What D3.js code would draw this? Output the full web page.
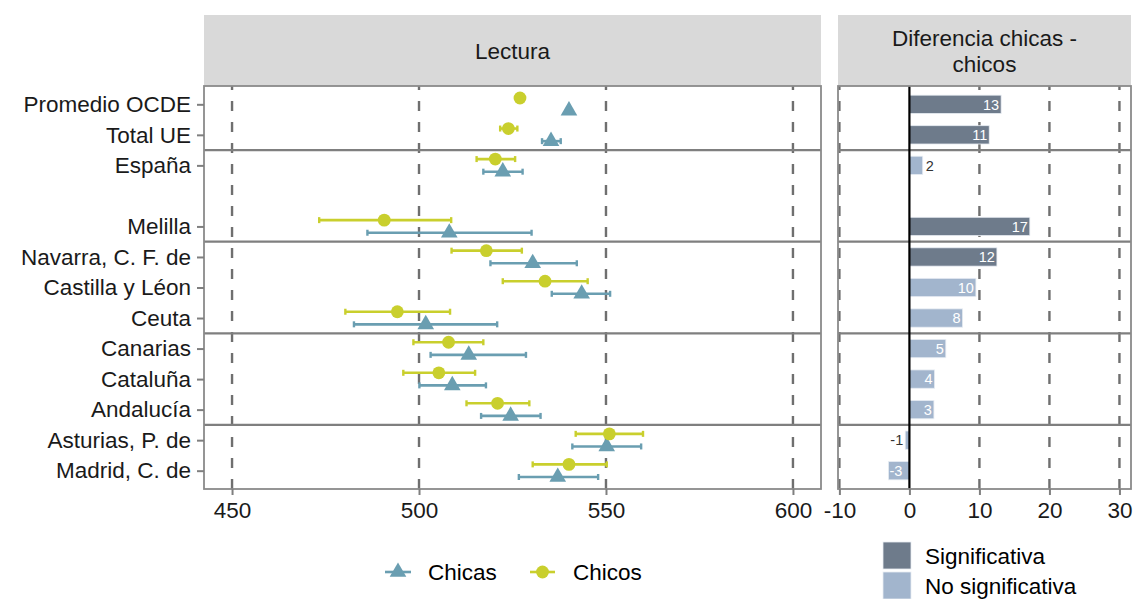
<!DOCTYPE html>
<html>
<head>
<meta charset="utf-8">
<script src="https://cdnjs.cloudflare.com/ajax/libs/d3/7.8.5/d3.min.js"></script>
<style>
  html, body { margin: 0; padding: 0; background: #fff; }
  svg { display: block; font-family: "Liberation Sans", Arial, sans-serif; }
</style>
</head>
<body>
<svg id="chart" width="1134" height="599"></svg>
<script>
// ---------------- DATA ----------------
const categories = ["Promedio OCDE", "Total UE", "España", "", "Melilla", "Navarra, C. F. de",
  "Castilla y Léon", "Ceuta", "Canarias", "Cataluña", "Andalucía", "Asturias, P. de", "Madrid, C. de"];
const regions = ["Promedio OCDE", "Total UE", "España", "Melilla", "Navarra, C. F. de",
  "Castilla y Léon", "Ceuta", "Canarias", "Cataluña", "Andalucía", "Asturias, P. de", "Madrid, C. de"];
const groupEnds = ["Total UE", "Melilla", "Ceuta", "Andalucía"];

const chicasMean = [540.1, 535.3, 522.4, 508.1, 530.4, 543.5, 501.8, 513.3, 508.9, 524.5, 550.2, 537.1];
const chicasLow  = [null, 532.9, 517.2, 486.2, 519.1, 535.5, 482.6, 503.1, 500.1, 516.6, 541.0, 526.7];
const chicasHigh = [null, 537.9, 527.7, 530.1, 542.2, 551.1, 520.9, 528.6, 517.9, 532.5, 559.4, 547.9];

const chicosMean = [527.0, 523.9, 520.4, 490.7, 518.0, 533.7, 494.2, 507.9, 505.3, 521.0, 550.9, 540.1];
const chicosLow  = [null, 521.7, 515.4, 473.3, 508.7, 522.4, 480.3, 498.5, 495.8, 512.7, 541.9, 530.4];
const chicosHigh = [null, 526.3, 525.7, 508.6, 527.5, 545.1, 508.3, 517.2, 515.0, 529.5, 559.9, 550.2];

const diffValues = [13.1, 11.4, 1.9, 17.2, 12.5, 9.5, 7.6, 5.2, 3.6, 3.5, -0.6, -3.0];
const diffLabels = ["13", "11", "2", "17", "12", "10", "8", "5", "4", "3", "-1", "-3"];
const significant = [true, true, false, true, true, false, false, false, false, false, false, false];

const leftTicks = [450, 500, 550, 600];
const rightTicks = [-10, 0, 10, 20, 30];
const leftTitle = "Lectura";
const rightTitle = ["Diferencia chicas -", "chicos"];
const seriesNames = ["Chicas", "Chicos"];
const sigNames = ["Significativa", "No significativa"];

// ---------------- STYLE ----------------
const colChicas = "#6A9EB1";
const colChicos = "#C9CF2D";
const colSig = "#6E7B8B";
const colNoSig = "#A2B5CD";
const gridCol = "#6f6f6f";
const borderCol = "#8a8a8a";
const fontSize = 22.5;

// ---------------- LAYOUT ----------------
const pTop = 86, pBottom = 489;
const L = { x0: 204, x1: 821 };
const R = { x0: 838, x1: 1131 };
const stripTop = 15;

const svg = d3.select("#chart");

const y = d3.scalePoint().domain(categories).range([pTop, pBottom]).padding(0.6);
const step = y.step();
const xL = d3.scaleLinear().domain([442.5, 607.5]).range([L.x0, L.x1]);
const xR = d3.scaleLinear().domain([-10.2, 31.65]).range([R.x0, R.x1]);

// strips
[[L, [leftTitle]], [R, rightTitle]].forEach(([p, lines]) => {
  svg.append("rect").attr("x", p.x0).attr("y", stripTop).attr("width", p.x1 - p.x0)
    .attr("height", pTop - stripTop).attr("fill", "#d9d9d9");
  const cx = (p.x0 + p.x1) / 2;
  const lh = 26;
  const cy = (stripTop + pTop) / 2;
  lines.forEach((t, i) => {
    svg.append("text").attr("x", cx).attr("y", cy + (i - (lines.length - 1) / 2) * lh)
      .attr("dy", "0.36em").attr("text-anchor", "middle").attr("font-size", fontSize)
      .attr("fill", "#1a1a1a").text(t);
  });
});

// panel backgrounds
[L, R].forEach(p => {
  svg.append("rect").attr("x", p.x0).attr("y", pTop).attr("width", p.x1 - p.x0)
    .attr("height", pBottom - pTop).attr("fill", "#fff");
});

// gridlines
const gL = svg.append("g");
leftTicks.forEach(t => {
  gL.append("line").attr("x1", xL(t)).attr("x2", xL(t)).attr("y1", pBottom).attr("y2", pTop)
    .attr("stroke", gridCol).attr("stroke-width", 2.4).attr("stroke-dasharray", "10,11");
});
rightTicks.filter(t => t !== 0).forEach(t => {
  gL.append("line").attr("x1", xR(t)).attr("x2", xR(t)).attr("y1", pBottom).attr("y2", pTop)
    .attr("stroke", gridCol).attr("stroke-width", 2.4).attr("stroke-dasharray", "10,11");
});

// group separators
groupEnds.forEach(g => {
  const yy = y(g) + step / 2;
  [L, R].forEach(p => {
    svg.append("line").attr("x1", p.x0).attr("x2", p.x1).attr("y1", yy).attr("y2", yy)
      .attr("stroke", "#7f7f7f").attr("stroke-width", 2.2);
  });
});

// ---------------- LEFT PANEL MARKS ----------------
const dodge = 6.3;
const triR = 9.6;
function triPath(cx, cy, r) {
  const xc = r * 0.866, yc = r * 0.5;
  return `M${cx},${cy - r}L${cx + xc},${cy + yc}L${cx - xc},${cy + yc}Z`;
}
const series = [
  { name: "Chicas", mean: chicasMean, lo: chicasLow, hi: chicasHigh, col: colChicas, off: dodge, shape: "tri" },
  { name: "Chicos", mean: chicosMean, lo: chicosLow, hi: chicosHigh, col: colChicos, off: -dodge, shape: "circle" }
];
const marks = svg.append("g");
series.forEach(s => {
  regions.forEach((r, i) => {
    const cy = y(r) + s.off;
    if (s.lo[i] != null) {
      const a = xL(s.lo[i]), b = xL(s.hi[i]);
      marks.append("line").attr("x1", a).attr("x2", b).attr("y1", cy).attr("y2", cy)
        .attr("stroke", s.col).attr("stroke-width", 2.6);
      [a, b].forEach(xx => marks.append("line").attr("x1", xx).attr("x2", xx)
        .attr("y1", cy - 3).attr("y2", cy + 3).attr("stroke", s.col).attr("stroke-width", 2.4));
    }
  });
});
series.forEach(s => {
  regions.forEach((r, i) => {
    const cy = y(r) + s.off;
    const cx = xL(s.mean[i]);
    if (s.shape === "tri") {
      marks.append("path").attr("d", triPath(cx, cy, triR)).attr("fill", s.col);
    } else {
      marks.append("circle").attr("cx", cx).attr("cy", cy).attr("r", 6.4).attr("fill", s.col);
    }
  });
});

// ---------------- RIGHT PANEL BARS ----------------
const barH = step * 0.6;
const bars = svg.append("g");
regions.forEach((r, i) => {
  const v = diffValues[i];
  const x0 = xR(Math.min(0, v)), x1 = xR(Math.max(0, v));
  bars.append("rect").attr("x", x0).attr("y", y(r) - barH / 2).attr("width", x1 - x0)
    .attr("height", barH).attr("fill", significant[i] ? colSig : colNoSig)
    .attr("stroke", "#e8edf3").attr("stroke-width", 0.8);
});
regions.forEach((r, i) => {
  const v = diffValues[i];
  const small = Math.abs(v) < 2.5;
  const end = xR(v);
  let xx, anchor, fill;
  if (v >= 0) {
    if (small) { xx = end + 3; anchor = "start"; fill = "#333"; }
    else { xx = end - 2; anchor = "end"; fill = "#fff"; }
  } else {
    if (small) { xx = end - 2; anchor = "end"; fill = "#333"; }
    else { xx = end + 1; anchor = "start"; fill = "#fff"; }
  }
  bars.append("text").attr("x", xx).attr("y", y(r)).attr("dy", "0.36em")
    .attr("text-anchor", anchor).attr("font-size", 14.5).attr("fill", fill).text(diffLabels[i]);
});
// zero line
svg.append("line").attr("x1", xR(0)).attr("x2", xR(0)).attr("y1", pTop).attr("y2", pBottom)
  .attr("stroke", "#000").attr("stroke-width", 2.2);

// panel borders
[L, R].forEach(p => {
  svg.append("rect").attr("x", p.x0).attr("y", pTop).attr("width", p.x1 - p.x0)
    .attr("height", pBottom - pTop).attr("fill", "none").attr("stroke", borderCol).attr("stroke-width", 1.8);
});

// ---------------- AXES ----------------
const tickCol = "#7f7f7f";
const fmt = d => String(d);
const yAxis = svg.append("g").attr("transform", `translate(${L.x0},0)`)
  .call(d3.axisLeft(y).tickValues(regions).tickSize(7).tickPadding(6));
const xAxisL = svg.append("g").attr("transform", `translate(0,${pBottom})`)
  .call(d3.axisBottom(xL).tickValues(leftTicks).tickFormat(fmt).tickSize(6).tickPadding(7));
const xAxisR = svg.append("g").attr("transform", `translate(0,${pBottom})`)
  .call(d3.axisBottom(xR).tickValues(rightTicks).tickFormat(fmt).tickSize(6).tickPadding(7));
[yAxis, xAxisL, xAxisR].forEach(a => {
  a.select(".domain").remove();
  a.selectAll(".tick line").attr("stroke", tickCol).attr("stroke-width", 2);
  a.selectAll(".tick text").attr("font-size", fontSize).attr("fill", "#1a1a1a")
    .attr("font-family", "Liberation Sans, Arial, sans-serif");
});

// ---------------- LEGENDS ----------------
const lg = svg.append("g");
const ly = 572;
lg.append("line").attr("x1", 385).attr("x2", 411).attr("y1", ly).attr("y2", ly)
  .attr("stroke", colChicas).attr("stroke-width", 2.6);
lg.append("path").attr("d", triPath(398, ly, triR)).attr("fill", colChicas);
lg.append("text").attr("x", 428).attr("y", ly).attr("dy", "0.36em").attr("font-size", fontSize)
  .attr("fill", "#000").text(seriesNames[0]);
lg.append("line").attr("x1", 530).attr("x2", 555).attr("y1", ly).attr("y2", ly)
  .attr("stroke", colChicos).attr("stroke-width", 2.6);
lg.append("circle").attr("cx", 542.5).attr("cy", ly).attr("r", 6.4).attr("fill", colChicos);
lg.append("text").attr("x", 573).attr("y", ly).attr("dy", "0.36em").attr("font-size", fontSize)
  .attr("fill", "#000").text(seriesNames[1]);

[colSig, colNoSig].forEach((c, i) => {
  const yy = 542 + i * 30;
  lg.append("rect").attr("x", 883).attr("y", yy).attr("width", 28).attr("height", 27)
    .attr("fill", c).attr("stroke", "#e8edf3").attr("stroke-width", 0.8);
  lg.append("text").attr("x", 925).attr("y", yy + 13.5).attr("dy", "0.36em")
    .attr("font-size", fontSize).attr("fill", "#000").text(sigNames[i]);
});
</script>
</body>
</html>
